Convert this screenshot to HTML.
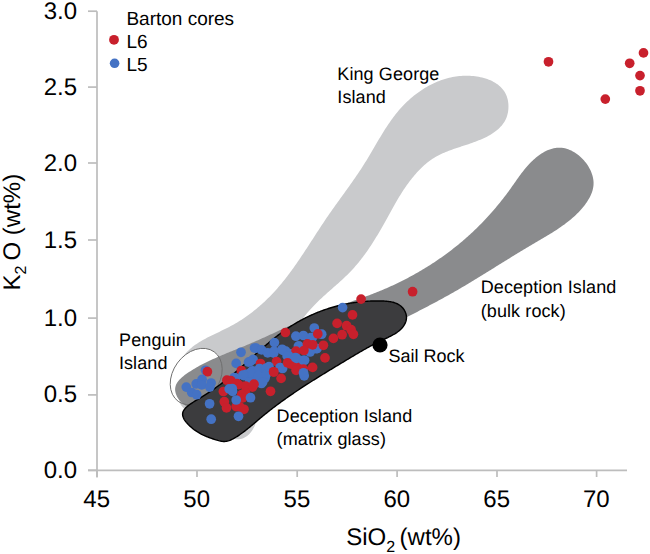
<!DOCTYPE html><html><head><meta charset="utf-8"><style>html,body{margin:0;padding:0;background:#fff;}svg{display:block;}text{font-family:"Liberation Sans",sans-serif;fill:#000;text-rendering:geometricPrecision;}</style></head><body>
<svg width="650" height="554" viewBox="0 0 650 554">
<rect width="650" height="554" fill="#fff"/>
<path d="M240.42,439.00 L238.94,439.22 L237.44,439.31 L235.89,439.27 L234.32,439.12 L232.72,438.85 L231.10,438.49 L229.46,438.02 L227.81,437.48 L226.14,436.85 L224.46,436.15 L222.78,435.39 L221.09,434.57 L219.41,433.70 L217.73,432.80 L216.06,431.86 L214.40,430.89 L212.75,429.91 L211.12,428.92 L209.52,427.93 L207.94,426.94 L206.38,425.95 L204.84,424.96 L203.33,423.98 L201.83,422.98 L200.36,421.99 L198.90,420.99 L197.46,419.97 L196.04,418.95 L194.63,417.92 L193.25,416.88 L191.87,415.82 L190.53,414.74 L189.21,413.64 L187.92,412.52 L186.67,411.37 L185.46,410.20 L184.30,408.99 L183.19,407.76 L182.13,406.48 L181.14,405.17 L180.20,403.82 L179.34,402.43 L178.55,400.99 L177.84,399.50 L177.20,397.97 L176.64,396.39 L176.15,394.78 L175.74,393.14 L175.41,391.47 L175.14,389.77 L174.95,388.05 L174.82,386.31 L174.76,384.56 L174.78,382.80 L174.85,381.03 L175.00,379.26 L175.21,377.49 L175.48,375.73 L175.81,373.97 L176.21,372.23 L176.67,370.51 L177.18,368.81 L177.76,367.13 L178.39,365.48 L179.08,363.87 L179.82,362.29 L180.62,360.75 L181.47,359.26 L182.37,357.81 L183.32,356.41 L184.32,355.07 L185.37,353.77 L186.46,352.52 L187.60,351.31 L188.78,350.14 L189.99,349.01 L191.25,347.92 L192.54,346.86 L193.86,345.84 L195.22,344.85 L196.60,343.89 L198.01,342.95 L199.45,342.05 L200.91,341.16 L202.40,340.30 L203.91,339.45 L205.43,338.63 L206.97,337.81 L208.52,337.02 L210.09,336.23 L211.67,335.45 L213.25,334.68 L214.85,333.91 L216.45,333.15 L218.05,332.39 L219.65,331.63 L221.25,330.87 L222.85,330.10 L224.45,329.32 L226.03,328.54 L227.61,327.74 L229.18,326.93 L230.74,326.11 L232.28,325.27 L233.81,324.42 L235.33,323.55 L236.83,322.66 L238.32,321.76 L239.80,320.84 L241.26,319.91 L242.71,318.96 L244.15,318.00 L245.58,317.02 L246.99,316.03 L248.39,315.02 L249.78,314.00 L251.15,312.97 L252.52,311.92 L253.87,310.86 L255.20,309.79 L256.53,308.70 L257.84,307.60 L259.15,306.49 L260.44,305.37 L261.72,304.23 L262.98,303.08 L264.24,301.92 L265.48,300.75 L266.72,299.56 L267.94,298.37 L269.15,297.16 L270.35,295.94 L271.54,294.71 L272.72,293.47 L273.88,292.22 L275.04,290.96 L276.19,289.69 L277.32,288.41 L278.45,287.12 L279.56,285.82 L280.66,284.51 L281.76,283.20 L282.84,281.87 L283.92,280.53 L284.99,279.19 L286.05,277.84 L287.10,276.48 L288.14,275.12 L289.17,273.74 L290.20,272.36 L291.22,270.98 L292.23,269.58 L293.24,268.18 L294.24,266.78 L295.24,265.37 L296.22,263.96 L297.21,262.54 L298.19,261.11 L299.16,259.68 L300.13,258.25 L301.10,256.81 L302.06,255.37 L303.02,253.93 L303.98,252.48 L304.93,251.04 L305.88,249.58 L306.83,248.13 L307.78,246.68 L308.72,245.22 L309.67,243.76 L310.61,242.30 L311.55,240.84 L312.50,239.38 L313.44,237.92 L314.38,236.46 L315.33,235.00 L316.27,233.55 L317.22,232.09 L318.16,230.63 L319.11,229.18 L320.07,227.72 L321.02,226.27 L321.98,224.82 L322.94,223.38 L323.90,221.93 L324.87,220.49 L325.84,219.06 L326.81,217.62 L327.79,216.19 L328.78,214.77 L329.77,213.35 L330.76,211.93 L331.75,210.51 L332.75,209.10 L333.75,207.69 L334.76,206.28 L335.76,204.87 L336.77,203.47 L337.78,202.07 L338.79,200.66 L339.80,199.26 L340.81,197.86 L341.82,196.46 L342.83,195.06 L343.84,193.66 L344.85,192.26 L345.86,190.86 L346.86,189.46 L347.86,188.06 L348.87,186.66 L349.87,185.25 L350.86,183.85 L351.86,182.44 L352.84,181.03 L353.83,179.61 L354.81,178.20 L355.79,176.78 L356.76,175.36 L357.73,173.93 L358.69,172.50 L359.64,171.07 L360.59,169.63 L361.54,168.19 L362.47,166.74 L363.40,165.29 L364.32,163.83 L365.24,162.37 L366.14,160.90 L367.04,159.43 L367.93,157.95 L368.82,156.47 L369.70,154.99 L370.58,153.50 L371.46,152.02 L372.33,150.53 L373.21,149.03 L374.08,147.54 L374.95,146.05 L375.82,144.56 L376.69,143.07 L377.57,141.58 L378.44,140.10 L379.33,138.62 L380.21,137.14 L381.10,135.66 L382.00,134.19 L382.90,132.72 L383.81,131.26 L384.73,129.81 L385.66,128.36 L386.59,126.92 L387.54,125.48 L388.50,124.06 L389.47,122.64 L390.45,121.23 L391.45,119.84 L392.45,118.45 L393.48,117.07 L394.52,115.71 L395.57,114.35 L396.64,113.01 L397.73,111.68 L398.84,110.37 L399.97,109.07 L401.12,107.78 L402.28,106.51 L403.47,105.26 L404.68,104.02 L405.92,102.80 L407.17,101.59 L408.44,100.41 L409.74,99.24 L411.05,98.09 L412.38,96.97 L413.74,95.86 L415.11,94.78 L416.50,93.72 L417.90,92.68 L419.33,91.66 L420.77,90.67 L422.23,89.71 L423.70,88.77 L425.19,87.86 L426.69,86.97 L428.21,86.12 L429.75,85.29 L431.29,84.49 L432.86,83.72 L434.43,82.98 L436.02,82.27 L437.62,81.60 L439.23,80.96 L440.85,80.35 L442.49,79.77 L444.13,79.23 L445.79,78.73 L447.45,78.26 L449.13,77.83 L450.81,77.43 L452.51,77.08 L454.21,76.76 L455.92,76.49 L457.63,76.25 L459.36,76.05 L461.08,75.90 L462.82,75.79 L464.56,75.72 L466.31,75.69 L468.06,75.71 L469.82,75.78 L471.58,75.89 L473.34,76.05 L475.11,76.25 L476.88,76.50 L478.64,76.80 L480.40,77.15 L482.14,77.56 L483.87,78.01 L485.57,78.52 L487.25,79.08 L488.90,79.70 L490.51,80.37 L492.08,81.10 L493.61,81.89 L495.08,82.74 L496.50,83.65 L497.87,84.62 L499.17,85.65 L500.40,86.74 L501.56,87.90 L502.65,89.13 L503.65,90.42 L504.56,91.78 L505.39,93.20 L506.12,94.70 L506.75,96.27 L507.28,97.90 L507.71,99.58 L508.05,101.30 L508.28,103.05 L508.42,104.82 L508.46,106.60 L508.41,108.38 L508.26,110.15 L508.02,111.90 L507.68,113.61 L507.25,115.28 L506.73,116.89 L506.12,118.44 L505.42,119.94 L504.64,121.38 L503.78,122.77 L502.85,124.10 L501.84,125.39 L500.76,126.62 L499.62,127.81 L498.42,128.95 L497.16,130.05 L495.84,131.10 L494.47,132.11 L493.06,133.09 L491.60,134.03 L490.10,134.93 L488.56,135.79 L486.99,136.63 L485.38,137.43 L483.75,138.21 L482.10,138.95 L480.42,139.67 L478.73,140.37 L477.03,141.04 L475.32,141.70 L473.60,142.33 L471.88,142.95 L470.15,143.55 L468.44,144.14 L466.73,144.71 L465.03,145.27 L463.35,145.83 L461.67,146.37 L460.02,146.92 L458.37,147.46 L456.74,148.00 L455.13,148.55 L453.53,149.10 L451.94,149.66 L450.36,150.23 L448.80,150.82 L447.26,151.41 L445.73,152.03 L444.21,152.67 L442.70,153.33 L441.21,154.02 L439.73,154.73 L438.27,155.48 L436.82,156.25 L435.38,157.06 L433.96,157.91 L432.56,158.81 L431.16,159.74 L429.78,160.72 L428.42,161.74 L427.06,162.81 L425.73,163.91 L424.41,165.06 L423.11,166.23 L421.82,167.45 L420.55,168.69 L419.30,169.96 L418.07,171.25 L416.86,172.57 L415.66,173.91 L414.49,175.27 L413.34,176.64 L412.21,178.02 L411.10,179.41 L410.02,180.81 L408.96,182.22 L407.92,183.64 L406.89,185.06 L405.89,186.48 L404.91,187.92 L403.94,189.35 L402.99,190.80 L402.05,192.25 L401.13,193.70 L400.23,195.16 L399.33,196.62 L398.45,198.09 L397.57,199.56 L396.71,201.04 L395.85,202.51 L395.00,204.00 L394.16,205.48 L393.32,206.97 L392.49,208.46 L391.66,209.95 L390.83,211.44 L390.01,212.94 L389.18,214.44 L388.36,215.94 L387.53,217.44 L386.70,218.94 L385.87,220.44 L385.03,221.94 L384.19,223.44 L383.35,224.94 L382.50,226.44 L381.64,227.94 L380.78,229.43 L379.91,230.93 L379.04,232.42 L378.16,233.91 L377.27,235.39 L376.37,236.87 L375.47,238.35 L374.56,239.82 L373.64,241.29 L372.71,242.75 L371.77,244.21 L370.83,245.66 L369.87,247.10 L368.90,248.54 L367.93,249.97 L366.94,251.39 L365.94,252.80 L364.93,254.20 L363.91,255.60 L362.87,256.98 L361.82,258.36 L360.76,259.72 L359.69,261.07 L358.61,262.42 L357.51,263.75 L356.39,265.07 L355.26,266.37 L354.12,267.67 L352.96,268.95 L351.79,270.21 L350.60,271.46 L349.40,272.70 L348.18,273.93 L346.95,275.15 L345.70,276.35 L344.45,277.55 L343.19,278.73 L341.92,279.91 L340.64,281.08 L339.35,282.25 L338.06,283.41 L336.77,284.57 L335.47,285.72 L334.16,286.87 L332.86,288.02 L331.56,289.17 L330.25,290.31 L328.95,291.46 L327.65,292.62 L326.36,293.77 L325.07,294.93 L323.78,296.09 L322.51,297.26 L321.24,298.43 L319.97,299.62 L318.72,300.81 L317.48,302.01 L316.25,303.22 L315.04,304.44 L313.84,305.67 L312.65,306.91 L311.48,308.17 L310.33,309.45 L309.19,310.74 L308.07,312.04 L306.97,313.35 L305.88,314.68 L304.81,316.03 L303.75,317.38 L302.71,318.75 L301.69,320.12 L300.68,321.51 L299.68,322.91 L298.70,324.32 L297.73,325.74 L296.77,327.17 L295.83,328.61 L294.89,330.06 L293.98,331.52 L293.07,332.98 L292.17,334.45 L291.29,335.93 L290.42,337.42 L289.55,338.91 L288.70,340.41 L287.86,341.91 L287.03,343.42 L286.20,344.94 L285.39,346.46 L284.58,347.98 L283.78,349.50 L282.99,351.03 L282.21,352.56 L281.44,354.10 L280.67,355.63 L279.91,357.17 L279.16,358.71 L278.41,360.25 L277.67,361.79 L276.93,363.33 L276.20,364.87 L275.47,366.41 L274.76,367.95 L274.04,369.49 L273.34,371.04 L272.64,372.59 L271.95,374.15 L271.27,375.71 L270.60,377.27 L269.94,378.85 L269.28,380.42 L268.64,382.01 L268.00,383.60 L267.38,385.20 L266.76,386.81 L266.16,388.44 L265.57,390.07 L264.99,391.71 L264.42,393.36 L263.86,395.03 L263.32,396.70 L262.78,398.39 L262.27,400.10 L261.76,401.82 L261.27,403.55 L260.80,405.30 L260.33,407.07 L259.88,408.84 L259.43,410.63 L258.98,412.41 L258.52,414.18 L258.05,415.94 L257.56,417.68 L257.04,419.39 L256.50,421.08 L255.92,422.73 L255.30,424.34 L254.64,425.90 L253.92,427.40 L253.15,428.85 L252.32,430.23 L251.42,431.54 L250.44,432.77 L249.40,433.92 L248.28,434.97 L247.11,435.93 L245.87,436.78 L244.58,437.52 L243.24,438.15 L241.85,438.64 Z" fill="#c9cacc"/>
<ellipse cx="196.2" cy="376.6" rx="30.6" ry="23.2" transform="rotate(-54 196.2 376.6)" fill="#fff"/>
<path d="M175.16,390.45 L175.12,388.91 L175.28,387.43 L175.63,386.00 L176.14,384.62 L176.81,383.28 L177.62,382.00 L178.56,380.75 L179.61,379.55 L180.76,378.39 L182.00,377.27 L183.31,376.17 L184.67,375.12 L186.08,374.09 L187.53,373.08 L188.98,372.11 L190.45,371.15 L191.92,370.22 L193.40,369.31 L194.88,368.42 L196.37,367.55 L197.86,366.70 L199.36,365.87 L200.87,365.05 L202.38,364.25 L203.89,363.47 L205.41,362.70 L206.94,361.95 L208.46,361.21 L209.99,360.49 L211.53,359.77 L213.06,359.07 L214.60,358.38 L216.15,357.69 L217.69,357.02 L219.24,356.35 L220.79,355.70 L222.34,355.04 L223.89,354.40 L225.45,353.76 L227.01,353.12 L228.56,352.48 L230.12,351.85 L231.68,351.22 L233.24,350.60 L234.80,349.97 L236.36,349.34 L237.91,348.71 L239.47,348.07 L241.03,347.44 L242.58,346.80 L244.14,346.16 L245.69,345.51 L247.24,344.85 L248.80,344.19 L250.34,343.53 L251.89,342.86 L253.44,342.19 L254.99,341.51 L256.53,340.83 L258.08,340.15 L259.62,339.46 L261.16,338.77 L262.70,338.08 L264.25,337.39 L265.79,336.69 L267.33,335.99 L268.87,335.29 L270.41,334.59 L271.95,333.89 L273.49,333.18 L275.03,332.48 L276.57,331.77 L278.11,331.07 L279.65,330.36 L281.19,329.66 L282.73,328.95 L284.27,328.25 L285.82,327.55 L287.36,326.85 L288.90,326.15 L290.45,325.45 L291.99,324.76 L293.54,324.06 L295.09,323.37 L296.64,322.68 L298.19,322.00 L299.74,321.32 L301.29,320.64 L302.84,319.96 L304.40,319.29 L305.96,318.63 L307.51,317.97 L309.07,317.31 L310.64,316.66 L312.20,316.01 L313.77,315.37 L315.34,314.74 L316.91,314.11 L318.48,313.48 L320.05,312.87 L321.63,312.26 L323.21,311.65 L324.79,311.06 L326.37,310.46 L327.96,309.88 L329.55,309.30 L331.13,308.72 L332.72,308.14 L334.32,307.57 L335.91,307.01 L337.50,306.44 L339.09,305.88 L340.69,305.32 L342.28,304.76 L343.88,304.21 L345.47,303.65 L347.07,303.10 L348.66,302.54 L350.26,301.98 L351.85,301.43 L353.45,300.87 L355.04,300.31 L356.63,299.75 L358.23,299.18 L359.82,298.62 L361.41,298.05 L362.99,297.47 L364.58,296.89 L366.17,296.31 L367.75,295.73 L369.33,295.13 L370.91,294.54 L372.48,293.93 L374.06,293.32 L375.63,292.71 L377.20,292.08 L378.77,291.45 L380.33,290.81 L381.89,290.17 L383.44,289.51 L385.00,288.85 L386.55,288.17 L388.10,287.49 L389.64,286.81 L391.18,286.11 L392.72,285.40 L394.25,284.69 L395.78,283.97 L397.30,283.24 L398.82,282.50 L400.34,281.76 L401.86,281.00 L403.37,280.24 L404.87,279.47 L406.37,278.70 L407.87,277.91 L409.37,277.12 L410.86,276.32 L412.34,275.51 L413.82,274.69 L415.30,273.86 L416.77,273.03 L418.24,272.19 L419.70,271.34 L421.16,270.48 L422.61,269.62 L424.06,268.74 L425.50,267.86 L426.94,266.97 L428.37,266.08 L429.80,265.17 L431.22,264.26 L432.64,263.34 L434.06,262.41 L435.46,261.47 L436.87,260.53 L438.26,259.58 L439.65,258.62 L441.04,257.65 L442.42,256.68 L443.80,255.70 L445.16,254.71 L446.53,253.71 L447.88,252.70 L449.24,251.69 L450.58,250.67 L451.92,249.64 L453.25,248.61 L454.58,247.56 L455.90,246.51 L457.22,245.45 L458.53,244.39 L459.83,243.31 L461.12,242.23 L462.41,241.14 L463.70,240.05 L464.97,238.94 L466.24,237.83 L467.51,236.71 L468.76,235.59 L470.01,234.45 L471.25,233.31 L472.49,232.16 L473.72,231.01 L474.94,229.84 L476.15,228.67 L477.36,227.49 L478.56,226.31 L479.75,225.11 L480.94,223.91 L482.12,222.71 L483.29,221.49 L484.45,220.27 L485.61,219.04 L486.76,217.81 L487.91,216.56 L489.04,215.31 L490.17,214.06 L491.30,212.79 L492.41,211.52 L493.52,210.24 L494.62,208.96 L495.72,207.67 L496.81,206.37 L497.89,205.06 L498.96,203.75 L500.03,202.43 L501.09,201.11 L502.15,199.77 L503.19,198.44 L504.23,197.09 L505.27,195.74 L506.29,194.38 L507.31,193.01 L508.32,191.64 L509.33,190.26 L510.33,188.88 L511.32,187.49 L512.31,186.09 L513.30,184.70 L514.28,183.30 L515.26,181.90 L516.25,180.50 L517.23,179.11 L518.22,177.72 L519.22,176.34 L520.23,174.97 L521.24,173.60 L522.27,172.25 L523.31,170.92 L524.36,169.59 L525.43,168.29 L526.52,167.00 L527.62,165.73 L528.75,164.49 L529.90,163.26 L531.07,162.07 L532.27,160.89 L533.49,159.75 L534.74,158.64 L536.03,157.55 L537.34,156.50 L538.69,155.49 L540.07,154.51 L541.49,153.57 L542.93,152.68 L544.41,151.84 L545.91,151.07 L547.43,150.35 L548.97,149.71 L550.53,149.15 L552.11,148.67 L553.70,148.27 L555.30,147.97 L556.91,147.78 L558.52,147.68 L560.14,147.70 L561.76,147.82 L563.38,148.05 L564.98,148.37 L566.58,148.79 L568.17,149.31 L569.74,149.91 L571.29,150.60 L572.82,151.38 L574.32,152.24 L575.79,153.17 L577.23,154.18 L578.64,155.27 L580.00,156.42 L581.33,157.64 L582.61,158.92 L583.84,160.26 L585.01,161.65 L586.13,163.10 L587.19,164.58 L588.18,166.11 L589.10,167.67 L589.95,169.26 L590.72,170.87 L591.41,172.51 L592.01,174.15 L592.52,175.81 L592.93,177.47 L593.25,179.13 L593.46,180.79 L593.57,182.43 L593.56,184.06 L593.45,185.68 L593.23,187.27 L592.93,188.85 L592.53,190.42 L592.05,191.96 L591.48,193.48 L590.85,194.99 L590.15,196.47 L589.39,197.93 L588.57,199.37 L587.70,200.78 L586.79,202.17 L585.83,203.54 L584.85,204.88 L583.83,206.20 L582.79,207.49 L581.72,208.76 L580.63,210.01 L579.51,211.23 L578.37,212.43 L577.20,213.61 L576.01,214.77 L574.81,215.90 L573.58,217.02 L572.33,218.12 L571.06,219.21 L569.77,220.27 L568.47,221.32 L567.14,222.36 L565.81,223.37 L564.45,224.38 L563.09,225.37 L561.71,226.35 L560.32,227.31 L558.91,228.27 L557.50,229.21 L556.07,230.14 L554.64,231.07 L553.19,231.98 L551.74,232.89 L550.28,233.79 L548.82,234.69 L547.35,235.57 L545.88,236.46 L544.40,237.34 L542.92,238.21 L541.43,239.08 L539.95,239.95 L538.47,240.82 L536.98,241.69 L535.50,242.55 L534.02,243.42 L532.54,244.29 L531.06,245.16 L529.59,246.03 L528.12,246.91 L526.66,247.78 L525.19,248.66 L523.73,249.54 L522.28,250.42 L520.82,251.30 L519.37,252.18 L517.92,253.06 L516.48,253.95 L515.03,254.83 L513.59,255.72 L512.15,256.60 L510.71,257.49 L509.27,258.38 L507.84,259.27 L506.40,260.16 L504.97,261.04 L503.54,261.93 L502.11,262.82 L500.68,263.71 L499.25,264.60 L497.82,265.49 L496.40,266.37 L494.97,267.26 L493.55,268.15 L492.12,269.04 L490.69,269.92 L489.27,270.81 L487.84,271.69 L486.42,272.57 L484.99,273.45 L483.57,274.34 L482.14,275.22 L480.71,276.09 L479.28,276.97 L477.86,277.84 L476.43,278.72 L474.99,279.59 L473.56,280.46 L472.13,281.33 L470.69,282.19 L469.26,283.06 L467.82,283.92 L466.38,284.78 L464.93,285.64 L463.49,286.49 L462.04,287.34 L460.59,288.19 L459.14,289.04 L457.69,289.88 L456.23,290.72 L454.77,291.56 L453.31,292.39 L451.85,293.23 L450.38,294.05 L448.91,294.88 L447.44,295.70 L445.96,296.52 L444.48,297.34 L443.00,298.16 L441.52,298.97 L440.04,299.78 L438.55,300.58 L437.06,301.39 L435.57,302.19 L434.08,302.99 L432.59,303.79 L431.09,304.58 L429.60,305.37 L428.10,306.16 L426.60,306.95 L425.09,307.74 L423.59,308.52 L422.08,309.30 L420.58,310.08 L419.07,310.86 L417.56,311.64 L416.05,312.41 L414.54,313.18 L413.03,313.95 L411.51,314.72 L410.00,315.49 L408.49,316.25 L406.97,317.01 L405.45,317.78 L403.94,318.54 L402.42,319.29 L400.90,320.05 L399.38,320.81 L397.86,321.56 L396.34,322.31 L394.82,323.06 L393.29,323.81 L391.77,324.56 L390.25,325.30 L388.72,326.05 L387.20,326.79 L385.67,327.53 L384.15,328.27 L382.62,329.01 L381.09,329.74 L379.57,330.48 L378.04,331.21 L376.51,331.95 L374.98,332.68 L373.45,333.41 L371.92,334.13 L370.39,334.86 L368.86,335.59 L367.33,336.31 L365.79,337.03 L364.26,337.75 L362.73,338.47 L361.19,339.19 L359.66,339.91 L358.12,340.62 L356.59,341.34 L355.05,342.05 L353.52,342.76 L351.98,343.47 L350.45,344.18 L348.91,344.89 L347.37,345.59 L345.84,346.30 L344.30,347.00 L342.76,347.70 L341.22,348.41 L339.68,349.11 L338.15,349.80 L336.61,350.50 L335.07,351.20 L333.53,351.89 L331.99,352.59 L330.45,353.28 L328.91,353.97 L327.37,354.66 L325.83,355.35 L324.29,356.04 L322.75,356.73 L321.21,357.41 L319.67,358.10 L318.12,358.78 L316.58,359.46 L315.04,360.14 L313.50,360.82 L311.96,361.50 L310.42,362.18 L308.88,362.86 L307.34,363.53 L305.79,364.21 L304.25,364.88 L302.71,365.56 L301.17,366.23 L299.63,366.90 L298.09,367.57 L296.55,368.24 L295.00,368.90 L293.46,369.57 L291.92,370.24 L290.38,370.90 L288.84,371.57 L287.30,372.23 L285.76,372.89 L284.22,373.55 L282.68,374.21 L281.14,374.87 L279.60,375.53 L278.06,376.19 L276.52,376.84 L274.98,377.50 L273.44,378.16 L271.89,378.81 L270.35,379.46 L268.81,380.11 L267.27,380.76 L265.72,381.41 L264.18,382.06 L262.63,382.71 L261.08,383.36 L259.53,384.00 L257.98,384.64 L256.43,385.29 L254.87,385.93 L253.31,386.57 L251.75,387.21 L250.19,387.84 L248.62,388.48 L247.05,389.11 L245.48,389.75 L243.91,390.38 L242.33,391.01 L240.75,391.64 L239.16,392.26 L237.58,392.89 L235.98,393.51 L234.39,394.14 L232.79,394.76 L231.18,395.38 L229.57,396.00 L227.96,396.61 L226.34,397.23 L224.72,397.84 L223.09,398.45 L221.45,399.06 L219.81,399.66 L218.17,400.27 L216.52,400.87 L214.86,401.48 L213.20,402.07 L211.53,402.67 L209.86,403.27 L208.18,403.86 L206.50,404.44 L204.81,405.00 L203.13,405.52 L201.45,406.00 L199.78,406.42 L198.13,406.77 L196.48,407.04 L194.86,407.21 L193.26,407.28 L191.68,407.23 L190.12,407.06 L188.60,406.75 L187.11,406.28 L185.66,405.65 L184.24,404.85 L182.87,403.87 L181.56,402.71 L180.32,401.42 L179.17,400.00 L178.13,398.50 L177.22,396.92 L176.45,395.31 L175.83,393.67 L175.40,392.05 Z" fill="#8a8b8d"/>
<ellipse cx="196.2" cy="376.6" rx="30.6" ry="23.2" transform="rotate(-54 196.2 376.6)" fill="none" stroke="#6e6e6e" stroke-width="0.9"/>
<path d="M182.61,414.15 L182.66,413.44 L182.78,412.75 L182.97,412.07 L183.23,411.41 L183.56,410.75 L183.94,410.10 L184.38,409.47 L184.87,408.84 L185.41,408.23 L185.99,407.62 L186.62,407.03 L187.28,406.44 L187.98,405.85 L188.71,405.28 L189.47,404.71 L190.26,404.16 L191.06,403.60 L191.88,403.05 L192.72,402.51 L193.56,401.98 L194.41,401.44 L195.27,400.92 L196.12,400.39 L196.97,399.87 L197.82,399.35 L198.65,398.84 L199.48,398.33 L200.30,397.82 L201.12,397.31 L201.93,396.81 L202.73,396.30 L203.53,395.80 L204.32,395.30 L205.10,394.80 L205.88,394.30 L206.66,393.81 L207.43,393.31 L208.19,392.81 L208.95,392.31 L209.71,391.82 L210.46,391.32 L211.20,390.82 L211.95,390.32 L212.68,389.82 L213.42,389.32 L214.15,388.82 L214.88,388.31 L215.60,387.81 L216.33,387.30 L217.05,386.79 L217.76,386.27 L218.48,385.76 L219.19,385.24 L219.90,384.72 L220.61,384.19 L221.32,383.66 L222.02,383.13 L222.73,382.59 L223.43,382.05 L224.14,381.50 L224.84,380.96 L225.54,380.40 L226.23,379.85 L226.93,379.29 L227.63,378.73 L228.32,378.17 L229.02,377.60 L229.71,377.03 L230.40,376.46 L231.10,375.88 L231.79,375.30 L232.48,374.72 L233.17,374.14 L233.85,373.55 L234.54,372.97 L235.23,372.38 L235.92,371.78 L236.60,371.19 L237.29,370.59 L237.97,370.00 L238.66,369.40 L239.34,368.79 L240.02,368.19 L240.71,367.59 L241.39,366.98 L242.07,366.37 L242.76,365.77 L243.44,365.16 L244.12,364.54 L244.81,363.93 L245.49,363.32 L246.17,362.71 L246.85,362.09 L247.54,361.48 L248.22,360.86 L248.90,360.25 L249.58,359.63 L250.27,359.01 L250.95,358.40 L251.63,357.78 L252.32,357.16 L253.00,356.55 L253.69,355.93 L254.37,355.31 L255.06,354.70 L255.75,354.08 L256.43,353.47 L257.12,352.85 L257.81,352.24 L258.50,351.62 L259.19,351.01 L259.88,350.40 L260.57,349.79 L261.27,349.18 L261.96,348.57 L262.65,347.96 L263.35,347.36 L264.05,346.75 L264.74,346.15 L265.44,345.55 L266.14,344.95 L266.84,344.35 L267.55,343.76 L268.25,343.16 L268.95,342.57 L269.66,341.98 L270.37,341.39 L271.08,340.81 L271.79,340.23 L272.50,339.65 L273.21,339.07 L273.93,338.49 L274.65,337.92 L275.36,337.35 L276.08,336.78 L276.81,336.22 L277.53,335.66 L278.26,335.10 L278.98,334.55 L279.71,334.00 L280.45,333.45 L281.18,332.90 L281.91,332.36 L282.65,331.83 L283.39,331.29 L284.13,330.77 L284.88,330.24 L285.62,329.72 L286.37,329.20 L287.12,328.69 L287.88,328.18 L288.63,327.68 L289.39,327.18 L290.15,326.68 L290.91,326.19 L291.68,325.70 L292.45,325.22 L293.22,324.74 L293.99,324.27 L294.76,323.80 L295.54,323.34 L296.32,322.88 L297.10,322.42 L297.88,321.97 L298.67,321.52 L299.46,321.08 L300.25,320.65 L301.04,320.21 L301.84,319.78 L302.63,319.36 L303.43,318.94 L304.24,318.53 L305.04,318.12 L305.85,317.71 L306.65,317.31 L307.46,316.92 L308.28,316.52 L309.09,316.14 L309.91,315.75 L310.73,315.38 L311.55,315.00 L312.37,314.64 L313.19,314.27 L314.02,313.91 L314.85,313.56 L315.68,313.21 L316.52,312.86 L317.35,312.52 L318.19,312.19 L319.03,311.86 L319.87,311.53 L320.71,311.21 L321.56,310.89 L322.40,310.58 L323.25,310.28 L324.10,309.97 L324.96,309.68 L325.81,309.38 L326.67,309.10 L327.52,308.81 L328.39,308.54 L329.25,308.26 L330.11,307.99 L330.98,307.73 L331.84,307.47 L332.71,307.22 L333.59,306.97 L334.46,306.73 L335.33,306.49 L336.21,306.25 L337.09,306.02 L337.97,305.80 L338.85,305.58 L339.73,305.36 L340.62,305.15 L341.50,304.95 L342.39,304.75 L343.28,304.56 L344.18,304.37 L345.07,304.18 L345.96,304.00 L346.86,303.83 L347.76,303.66 L348.66,303.49 L349.56,303.33 L350.46,303.18 L351.37,303.03 L352.27,302.88 L353.18,302.75 L354.09,302.61 L355.00,302.48 L355.92,302.36 L356.83,302.24 L357.74,302.13 L358.66,302.02 L359.58,301.91 L360.50,301.81 L361.42,301.72 L362.34,301.63 L363.27,301.55 L364.19,301.47 L365.12,301.40 L366.05,301.33 L366.98,301.27 L367.91,301.21 L368.84,301.16 L369.77,301.11 L370.71,301.07 L371.65,301.04 L372.58,301.01 L373.52,300.98 L374.46,300.96 L375.40,300.95 L376.35,300.94 L377.29,300.93 L378.24,300.93 L379.18,300.94 L380.13,300.95 L381.08,300.97 L382.03,300.99 L382.98,301.02 L383.92,301.06 L384.87,301.11 L385.81,301.18 L386.74,301.25 L387.67,301.35 L388.59,301.46 L389.50,301.58 L390.40,301.73 L391.29,301.89 L392.17,302.08 L393.04,302.29 L393.89,302.53 L394.72,302.79 L395.54,303.08 L396.35,303.40 L397.13,303.75 L397.89,304.13 L398.64,304.55 L399.36,305.00 L400.06,305.48 L400.73,306.01 L401.38,306.57 L402.00,307.17 L402.60,307.82 L403.16,308.50 L403.70,309.23 L404.19,309.99 L404.65,310.78 L405.07,311.59 L405.44,312.43 L405.76,313.29 L406.02,314.16 L406.23,315.05 L406.38,315.94 L406.47,316.84 L406.49,317.73 L406.44,318.62 L406.33,319.51 L406.15,320.38 L405.92,321.24 L405.63,322.08 L405.31,322.89 L404.94,323.69 L404.54,324.46 L404.11,325.20 L403.64,325.92 L403.15,326.62 L402.62,327.30 L402.06,327.95 L401.48,328.59 L400.87,329.21 L400.24,329.81 L399.58,330.39 L398.90,330.95 L398.19,331.50 L397.47,332.04 L396.73,332.56 L395.97,333.06 L395.20,333.56 L394.40,334.04 L393.60,334.51 L392.78,334.97 L391.96,335.43 L391.12,335.87 L390.27,336.31 L389.42,336.74 L388.55,337.16 L387.69,337.59 L386.82,338.00 L385.95,338.42 L385.07,338.83 L384.20,339.24 L383.32,339.65 L382.45,340.05 L381.59,340.47 L380.72,340.88 L379.87,341.29 L379.01,341.71 L378.17,342.13 L377.32,342.55 L376.48,342.97 L375.65,343.39 L374.82,343.82 L373.99,344.25 L373.17,344.67 L372.35,345.11 L371.54,345.54 L370.72,345.97 L369.91,346.41 L369.11,346.84 L368.31,347.28 L367.51,347.72 L366.71,348.16 L365.92,348.61 L365.13,349.05 L364.34,349.49 L363.55,349.94 L362.77,350.39 L361.99,350.84 L361.21,351.28 L360.43,351.74 L359.65,352.19 L358.88,352.64 L358.10,353.09 L357.33,353.55 L356.56,354.00 L355.79,354.46 L355.02,354.91 L354.25,355.37 L353.48,355.83 L352.72,356.29 L351.95,356.75 L351.18,357.20 L350.41,357.66 L349.65,358.13 L348.88,358.59 L348.11,359.05 L347.35,359.51 L346.58,359.97 L345.81,360.43 L345.04,360.89 L344.27,361.36 L343.50,361.82 L342.73,362.28 L341.96,362.75 L341.19,363.21 L340.42,363.68 L339.64,364.14 L338.87,364.61 L338.10,365.07 L337.32,365.54 L336.55,366.00 L335.78,366.47 L335.00,366.94 L334.23,367.41 L333.45,367.87 L332.68,368.34 L331.90,368.81 L331.13,369.28 L330.35,369.75 L329.58,370.22 L328.80,370.70 L328.02,371.17 L327.25,371.64 L326.47,372.11 L325.70,372.59 L324.92,373.06 L324.14,373.54 L323.37,374.02 L322.59,374.49 L321.82,374.97 L321.04,375.45 L320.26,375.93 L319.49,376.41 L318.71,376.89 L317.94,377.37 L317.16,377.85 L316.39,378.34 L315.62,378.82 L314.84,379.31 L314.07,379.79 L313.29,380.28 L312.52,380.77 L311.75,381.26 L310.97,381.75 L310.20,382.24 L309.43,382.73 L308.66,383.22 L307.89,383.71 L307.12,384.21 L306.35,384.70 L305.58,385.20 L304.81,385.70 L304.04,386.20 L303.27,386.70 L302.51,387.20 L301.74,387.70 L300.97,388.20 L300.21,388.71 L299.44,389.21 L298.68,389.72 L297.92,390.23 L297.15,390.74 L296.39,391.25 L295.63,391.76 L294.87,392.27 L294.11,392.78 L293.35,393.30 L292.60,393.82 L291.84,394.33 L291.08,394.85 L290.33,395.37 L289.58,395.90 L288.82,396.42 L288.07,396.94 L287.32,397.47 L286.57,398.00 L285.82,398.53 L285.07,399.06 L284.33,399.59 L283.58,400.12 L282.84,400.66 L282.09,401.19 L281.35,401.73 L280.61,402.27 L279.87,402.81 L279.13,403.35 L278.39,403.90 L277.66,404.44 L276.92,404.99 L276.19,405.54 L275.46,406.09 L274.73,406.64 L274.00,407.20 L273.27,407.75 L272.54,408.31 L271.82,408.87 L271.10,409.43 L270.37,409.99 L269.65,410.56 L268.93,411.12 L268.22,411.69 L267.50,412.26 L266.79,412.83 L266.07,413.40 L265.36,413.98 L264.65,414.56 L263.94,415.14 L263.24,415.72 L262.53,416.30 L261.83,416.88 L261.13,417.47 L260.43,418.06 L259.73,418.65 L259.03,419.24 L258.34,419.83 L257.64,420.42 L256.95,421.01 L256.25,421.60 L255.56,422.19 L254.86,422.78 L254.17,423.37 L253.47,423.96 L252.77,424.54 L252.08,425.13 L251.38,425.71 L250.68,426.29 L249.98,426.87 L249.28,427.44 L248.57,428.01 L247.87,428.58 L247.16,429.15 L246.45,429.71 L245.74,430.27 L245.02,430.82 L244.31,431.37 L243.58,431.91 L242.86,432.45 L242.13,432.98 L241.40,433.51 L240.67,434.03 L239.93,434.54 L239.19,435.05 L238.44,435.55 L237.69,436.05 L236.93,436.54 L236.17,437.02 L235.41,437.49 L234.63,437.95 L233.86,438.40 L233.08,438.83 L232.29,439.24 L231.49,439.63 L230.69,440.00 L229.88,440.33 L229.06,440.62 L228.24,440.88 L227.41,441.10 L226.57,441.28 L225.72,441.40 L224.86,441.48 L223.99,441.50 L223.11,441.46 L222.23,441.37 L221.34,441.24 L220.44,441.06 L219.55,440.86 L218.65,440.63 L217.75,440.38 L216.86,440.11 L215.97,439.84 L215.08,439.57 L214.21,439.30 L213.33,439.02 L212.46,438.73 L211.60,438.44 L210.74,438.14 L209.89,437.84 L209.04,437.53 L208.20,437.21 L207.36,436.88 L206.52,436.54 L205.69,436.19 L204.86,435.83 L204.03,435.45 L203.21,435.07 L202.40,434.67 L201.58,434.26 L200.77,433.83 L199.96,433.39 L199.16,432.93 L198.36,432.45 L197.56,431.96 L196.76,431.45 L195.97,430.92 L195.18,430.37 L194.39,429.81 L193.60,429.22 L192.82,428.61 L192.04,427.97 L191.26,427.32 L190.49,426.65 L189.74,425.97 L189.01,425.26 L188.29,424.55 L187.60,423.82 L186.94,423.09 L186.32,422.35 L185.72,421.60 L185.17,420.84 L184.66,420.09 L184.20,419.33 L183.79,418.57 L183.43,417.82 L183.14,417.07 L182.90,416.33 L182.73,415.59 L182.63,414.86 Z" fill="#3c3c3e" stroke="#000" stroke-width="1.4"/>
<path d="M97,11.2 V477.5 M88,470.4 H627" stroke="#bdbdbd" stroke-width="1.7" fill="none"/>
<path d="M88,470.3 H97" stroke="#bdbdbd" stroke-width="1.7"/>
<text x="77.1" y="477.8" font-size="24" text-anchor="end">0.0</text>
<path d="M88,394.9 H97" stroke="#bdbdbd" stroke-width="1.7"/>
<text x="77.1" y="402.4" font-size="24" text-anchor="end">0.5</text>
<path d="M88,318.1 H97" stroke="#bdbdbd" stroke-width="1.7"/>
<text x="77.1" y="325.6" font-size="24" text-anchor="end">1.0</text>
<path d="M88,240.0 H97" stroke="#bdbdbd" stroke-width="1.7"/>
<text x="77.1" y="247.5" font-size="24" text-anchor="end">1.5</text>
<path d="M88,163.0 H97" stroke="#bdbdbd" stroke-width="1.7"/>
<text x="77.1" y="170.5" font-size="24" text-anchor="end">2.0</text>
<path d="M88,87.1 H97" stroke="#bdbdbd" stroke-width="1.7"/>
<text x="77.1" y="94.6" font-size="24" text-anchor="end">2.5</text>
<path d="M88,11.2 H97" stroke="#bdbdbd" stroke-width="1.7"/>
<text x="77.1" y="18.7" font-size="24" text-anchor="end">3.0</text>
<path d="M97.0,470.4 V477" stroke="#bdbdbd" stroke-width="1.7"/>
<text x="96.7" y="507.0" font-size="24" text-anchor="middle">45</text>
<path d="M197.0,470.4 V477" stroke="#bdbdbd" stroke-width="1.7"/>
<text x="196.7" y="507.0" font-size="24" text-anchor="middle">50</text>
<path d="M297.2,470.4 V477" stroke="#bdbdbd" stroke-width="1.7"/>
<text x="296.9" y="507.0" font-size="24" text-anchor="middle">55</text>
<path d="M397.1,470.4 V477" stroke="#bdbdbd" stroke-width="1.7"/>
<text x="396.8" y="507.0" font-size="24" text-anchor="middle">60</text>
<path d="M497.0,470.4 V477" stroke="#bdbdbd" stroke-width="1.7"/>
<text x="496.7" y="507.0" font-size="24" text-anchor="middle">65</text>
<path d="M596.6,470.4 V477" stroke="#bdbdbd" stroke-width="1.7"/>
<text x="596.3" y="507.0" font-size="24" text-anchor="middle">70</text>
<circle cx="380" cy="345" r="7.6" fill="#000"/>
<circle cx="548.5" cy="61.8" r="4.85" fill="rgb(200, 32, 44)"/>
<circle cx="643.5" cy="52.9" r="4.85" fill="rgb(200, 32, 44)"/>
<circle cx="629.7" cy="63.3" r="4.85" fill="rgb(200, 32, 44)"/>
<circle cx="640.0" cy="75.6" r="4.85" fill="rgb(200, 32, 44)"/>
<circle cx="640.0" cy="90.8" r="4.85" fill="rgb(200, 32, 44)"/>
<circle cx="605.3" cy="99.1" r="4.85" fill="rgb(200, 32, 44)"/>
<circle cx="412.6" cy="291.7" r="4.85" fill="rgb(200, 32, 44)"/>
<circle cx="361.1" cy="299.1" r="4.85" fill="rgb(200, 32, 44)"/>
<circle cx="205.5" cy="370.3" r="4.85" fill="rgb(68, 114, 196)"/>
<circle cx="207.4" cy="371.7" r="4.85" fill="rgb(200, 32, 44)"/>
<circle cx="186.3" cy="387.1" r="4.85" fill="rgb(68, 114, 196)"/>
<circle cx="191.7" cy="392.5" r="4.85" fill="rgb(68, 114, 196)"/>
<circle cx="196.7" cy="394.7" r="4.85" fill="rgb(68, 114, 196)"/>
<circle cx="196.2" cy="383.9" r="4.85" fill="rgb(68, 114, 196)"/>
<circle cx="202.1" cy="379.4" r="4.85" fill="rgb(68, 114, 196)"/>
<circle cx="201.7" cy="384.8" r="4.85" fill="rgb(68, 114, 196)"/>
<circle cx="211.1" cy="383.0" r="4.85" fill="rgb(68, 114, 196)"/>
<circle cx="209.8" cy="387.1" r="4.85" fill="rgb(68, 114, 196)"/>
<circle cx="209.6" cy="403.8" r="4.85" fill="rgb(68, 114, 196)"/>
<circle cx="211.2" cy="419.2" r="4.85" fill="rgb(68, 114, 196)"/>
<circle cx="241.0" cy="352.3" r="4.85" fill="rgb(68, 114, 196)"/>
<circle cx="236.2" cy="363.4" r="4.85" fill="rgb(68, 114, 196)"/>
<circle cx="254.5" cy="348.0" r="4.85" fill="rgb(68, 114, 196)"/>
<circle cx="256.2" cy="348.1" r="4.85" fill="rgb(68, 114, 196)"/>
<circle cx="261.6" cy="349.9" r="4.85" fill="rgb(68, 114, 196)"/>
<circle cx="274.4" cy="342.6" r="4.85" fill="rgb(68, 114, 196)"/>
<circle cx="282.8" cy="350.3" r="4.85" fill="rgb(68, 114, 196)"/>
<circle cx="273.8" cy="353.1" r="4.85" fill="rgb(68, 114, 196)"/>
<circle cx="267.7" cy="352.9" r="4.85" fill="rgb(68, 114, 196)"/>
<circle cx="253.1" cy="359.4" r="4.85" fill="rgb(68, 114, 196)"/>
<circle cx="248.5" cy="362.1" r="4.85" fill="rgb(68, 114, 196)"/>
<circle cx="250.2" cy="361.5" r="4.85" fill="rgb(68, 114, 196)"/>
<circle cx="260.5" cy="363.5" r="4.85" fill="rgb(200, 32, 44)"/>
<circle cx="276.6" cy="361.5" r="4.85" fill="rgb(200, 32, 44)"/>
<circle cx="241.3" cy="370.5" r="4.85" fill="rgb(200, 32, 44)"/>
<circle cx="246.2" cy="374.4" r="4.85" fill="rgb(68, 114, 196)"/>
<circle cx="252.5" cy="370.8" r="4.85" fill="rgb(68, 114, 196)"/>
<circle cx="259.5" cy="368.5" r="4.85" fill="rgb(68, 114, 196)"/>
<circle cx="265.1" cy="378.0" r="4.85" fill="rgb(68, 114, 196)"/>
<circle cx="256.1" cy="378.0" r="4.85" fill="rgb(68, 114, 196)"/>
<circle cx="249.8" cy="380.8" r="4.85" fill="rgb(68, 114, 196)"/>
<circle cx="261.5" cy="383.5" r="4.85" fill="rgb(68, 114, 196)"/>
<circle cx="265.7" cy="368.4" r="4.85" fill="rgb(68, 114, 196)"/>
<circle cx="250.3" cy="372.9" r="4.85" fill="rgb(68, 114, 196)"/>
<circle cx="244.0" cy="375.6" r="4.85" fill="rgb(68, 114, 196)"/>
<circle cx="258.5" cy="375.6" r="4.85" fill="rgb(68, 114, 196)"/>
<circle cx="266.6" cy="373.8" r="4.85" fill="rgb(68, 114, 196)"/>
<circle cx="280.1" cy="367.5" r="4.85" fill="rgb(68, 114, 196)"/>
<circle cx="269.0" cy="366.7" r="4.85" fill="rgb(68, 114, 196)"/>
<circle cx="262.7" cy="382.1" r="4.85" fill="rgb(68, 114, 196)"/>
<circle cx="282.6" cy="368.5" r="4.85" fill="rgb(68, 114, 196)"/>
<circle cx="243.0" cy="375.0" r="4.85" fill="rgb(68, 114, 196)"/>
<circle cx="234.1" cy="377.5" r="4.85" fill="rgb(68, 114, 196)"/>
<circle cx="235.3" cy="378.0" r="4.85" fill="rgb(68, 114, 196)"/>
<circle cx="226.9" cy="380.2" r="4.85" fill="rgb(200, 32, 44)"/>
<circle cx="230.9" cy="380.7" r="4.85" fill="rgb(200, 32, 44)"/>
<circle cx="223.4" cy="391.5" r="4.85" fill="rgb(200, 32, 44)"/>
<circle cx="238.6" cy="384.6" r="4.85" fill="rgb(200, 32, 44)"/>
<circle cx="245.5" cy="386.0" r="4.85" fill="rgb(200, 32, 44)"/>
<circle cx="252.5" cy="387.1" r="4.85" fill="rgb(200, 32, 44)"/>
<circle cx="245.3" cy="392.5" r="4.85" fill="rgb(200, 32, 44)"/>
<circle cx="236.8" cy="383.7" r="4.85" fill="rgb(200, 32, 44)"/>
<circle cx="254.0" cy="384.2" r="4.85" fill="rgb(200, 32, 44)"/>
<circle cx="232.3" cy="388.6" r="4.85" fill="rgb(68, 114, 196)"/>
<circle cx="232.5" cy="391.4" r="4.85" fill="rgb(68, 114, 196)"/>
<circle cx="229.2" cy="388.9" r="4.85" fill="rgb(68, 114, 196)"/>
<circle cx="224.3" cy="401.7" r="4.85" fill="rgb(200, 32, 44)"/>
<circle cx="226.5" cy="407.9" r="4.85" fill="rgb(200, 32, 44)"/>
<circle cx="239.9" cy="406.9" r="4.85" fill="rgb(200, 32, 44)"/>
<circle cx="244.0" cy="409.3" r="4.85" fill="rgb(200, 32, 44)"/>
<circle cx="236.2" cy="406.6" r="4.85" fill="rgb(200, 32, 44)"/>
<circle cx="241.7" cy="394.6" r="4.85" fill="rgb(200, 32, 44)"/>
<circle cx="242.6" cy="397.9" r="4.85" fill="rgb(200, 32, 44)"/>
<circle cx="250.5" cy="397.7" r="4.85" fill="rgb(68, 114, 196)"/>
<circle cx="236.2" cy="400.0" r="4.85" fill="rgb(68, 114, 196)"/>
<circle cx="238.5" cy="416.3" r="4.85" fill="rgb(68, 114, 196)"/>
<circle cx="270.5" cy="391.3" r="4.85" fill="rgb(200, 32, 44)"/>
<circle cx="281.1" cy="378.4" r="4.85" fill="rgb(200, 32, 44)"/>
<circle cx="273.6" cy="371.8" r="4.85" fill="rgb(200, 32, 44)"/>
<circle cx="273.8" cy="372.0" r="4.85" fill="rgb(200, 32, 44)"/>
<circle cx="285.4" cy="332.5" r="4.85" fill="rgb(200, 32, 44)"/>
<circle cx="295.9" cy="336.2" r="4.85" fill="rgb(68, 114, 196)"/>
<circle cx="303.4" cy="335.5" r="4.85" fill="rgb(68, 114, 196)"/>
<circle cx="314.3" cy="328.0" r="4.85" fill="rgb(68, 114, 196)"/>
<circle cx="310.8" cy="337.6" r="4.85" fill="rgb(68, 114, 196)"/>
<circle cx="312.4" cy="337.6" r="4.85" fill="rgb(68, 114, 196)"/>
<circle cx="321.7" cy="334.2" r="4.85" fill="rgb(68, 114, 196)"/>
<circle cx="317.8" cy="333.9" r="4.85" fill="rgb(200, 32, 44)"/>
<circle cx="298.4" cy="346.1" r="4.85" fill="rgb(68, 114, 196)"/>
<circle cx="299.0" cy="346.2" r="4.85" fill="rgb(68, 114, 196)"/>
<circle cx="285.8" cy="351.1" r="4.85" fill="rgb(68, 114, 196)"/>
<circle cx="274.0" cy="351.1" r="4.85" fill="rgb(68, 114, 196)"/>
<circle cx="282.1" cy="349.3" r="4.85" fill="rgb(68, 114, 196)"/>
<circle cx="290.5" cy="353.9" r="4.85" fill="rgb(68, 114, 196)"/>
<circle cx="310.1" cy="352.0" r="4.85" fill="rgb(68, 114, 196)"/>
<circle cx="317.1" cy="348.5" r="4.85" fill="rgb(68, 114, 196)"/>
<circle cx="316.2" cy="348.7" r="4.85" fill="rgb(68, 114, 196)"/>
<circle cx="308.7" cy="350.9" r="4.85" fill="rgb(68, 114, 196)"/>
<circle cx="307.4" cy="343.9" r="4.85" fill="rgb(200, 32, 44)"/>
<circle cx="312.7" cy="344.8" r="4.85" fill="rgb(200, 32, 44)"/>
<circle cx="323.4" cy="345.3" r="4.85" fill="rgb(200, 32, 44)"/>
<circle cx="303.9" cy="350.5" r="4.85" fill="rgb(200, 32, 44)"/>
<circle cx="296.0" cy="351.1" r="4.85" fill="rgb(200, 32, 44)"/>
<circle cx="288.5" cy="355.6" r="4.85" fill="rgb(68, 114, 196)"/>
<circle cx="287.1" cy="355.9" r="4.85" fill="rgb(68, 114, 196)"/>
<circle cx="287.6" cy="362.8" r="4.85" fill="rgb(200, 32, 44)"/>
<circle cx="290.7" cy="364.0" r="4.85" fill="rgb(200, 32, 44)"/>
<circle cx="300.6" cy="364.9" r="4.85" fill="rgb(200, 32, 44)"/>
<circle cx="294.5" cy="365.6" r="4.85" fill="rgb(200, 32, 44)"/>
<circle cx="312.6" cy="367.4" r="4.85" fill="rgb(200, 32, 44)"/>
<circle cx="325.0" cy="357.9" r="4.85" fill="rgb(200, 32, 44)"/>
<circle cx="296.6" cy="358.3" r="4.85" fill="rgb(68, 114, 196)"/>
<circle cx="304.6" cy="360.3" r="4.85" fill="rgb(68, 114, 196)"/>
<circle cx="303.3" cy="360.4" r="4.85" fill="rgb(68, 114, 196)"/>
<circle cx="295.4" cy="357.5" r="4.85" fill="rgb(68, 114, 196)"/>
<circle cx="296.1" cy="370.3" r="4.85" fill="rgb(200, 32, 44)"/>
<circle cx="303.5" cy="369.2" r="4.85" fill="rgb(200, 32, 44)"/>
<circle cx="304.2" cy="375.8" r="4.85" fill="rgb(68, 114, 196)"/>
<circle cx="303.5" cy="372.8" r="4.85" fill="rgb(68, 114, 196)"/>
<circle cx="342.6" cy="307.6" r="4.85" fill="rgb(68, 114, 196)"/>
<circle cx="352.5" cy="314.9" r="4.85" fill="rgb(200, 32, 44)"/>
<circle cx="337.1" cy="323.4" r="4.85" fill="rgb(200, 32, 44)"/>
<circle cx="346.6" cy="325.7" r="4.85" fill="rgb(200, 32, 44)"/>
<circle cx="351.1" cy="329.7" r="4.85" fill="rgb(200, 32, 44)"/>
<circle cx="353.4" cy="334.3" r="4.85" fill="rgb(200, 32, 44)"/>
<circle cx="342.1" cy="334.7" r="4.85" fill="rgb(200, 32, 44)"/>
<circle cx="333.4" cy="338.4" r="4.85" fill="rgb(200, 32, 44)"/>
<text x="126.4" y="25.1" font-size="19">Barton cores</text>
<circle cx="114" cy="39.8" r="4.9" fill="rgb(200, 32, 44)"/>
<text x="126.4" y="47.8" font-size="19">L6</text>
<circle cx="114.6" cy="63.3" r="4.8" fill="rgb(68, 114, 196)"/>
<text x="126.4" y="70.8" font-size="19">L5</text>
<text x="337.3" y="79.5" font-size="18" letter-spacing="0.1">King George</text>
<text x="337.3" y="102.6" font-size="18" letter-spacing="0.1">Island</text>
<text x="480.7" y="293.1" font-size="18" letter-spacing="0.1">Deception Island</text>
<text x="480.7" y="316.6" font-size="18" letter-spacing="0.1">(bulk rock)</text>
<text x="388.5" y="361.5" font-size="18">Sail Rock</text>
<text x="119.1" y="345.8" font-size="18" letter-spacing="0.1">Penguin</text>
<text x="118.9" y="368.7" font-size="18" letter-spacing="0.1">Island</text>
<text x="276.6" y="422.3" font-size="18" letter-spacing="0.1">Deception Island</text>
<text x="276.6" y="444.9" font-size="18" letter-spacing="0.1">(matrix glass)</text>
<text x="346.2" y="545.2" font-size="24">SiO<tspan font-size="16" dy="6.5">2</tspan><tspan dy="-6.5" dx="4.5">(wt%)</tspan></text>
<text transform="translate(19.5,290.4) rotate(-90)" font-size="24">K<tspan font-size="16" dy="6.5">2</tspan><tspan dy="-6.5" dx="5">O (wt%)</tspan></text>
</svg></body></html>
